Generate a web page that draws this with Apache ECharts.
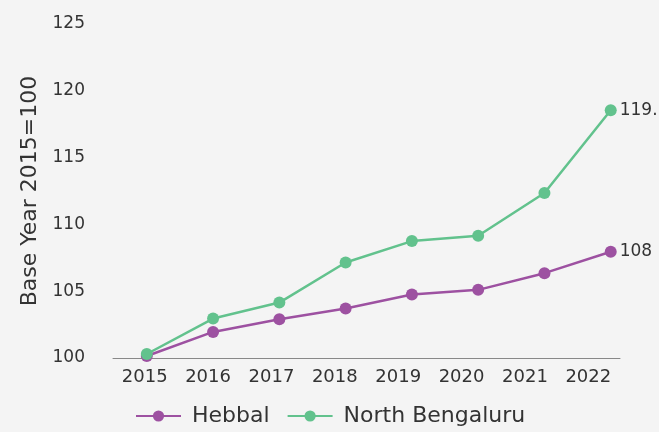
<!DOCTYPE html>
<html>
<head>
<meta charset="utf-8">
<script src="https://cdn.jsdelivr.net/npm/echarts@6/dist/echarts.min.js"></script>
<style>
	html, body { margin: 0; padding: 0; background: #f4f4f4; }
	#chart { width: 659px; height: 432px; }
</style>
</head>
<body>
<div id="chart"></div>
<script>
// data
const years = ['2015', '2016', '2017', '2018', '2019', '2020', '2021', '2022']
const yearValues = [2015, 2016, 2017, 2018, 2019, 2020, 2021, 2022]
const hebbal = [100.15, 101.95, 102.9, 103.7, 104.75, 105.1, 106.35, 107.95]
const northBengaluru = [100.3, 102.95, 104.15, 107.15, 108.75, 109.15, 112.35, 118.55]
const endLabels = { Hebbal: '108', 'North Bengaluru': '119.1' }

const PURPLE = '#9d51a1'
const GREEN = '#62c28d'
const FONT = 'DejaVu Sans'

const chart = echarts.init(document.getElementById('chart'))

function lineSeries(name, values, color) {
	return {
		name,
		type: 'line',
		xAxisIndex: 1,
		data: values.map((v, i) => [yearValues[i], v]),
		symbol: 'circle',
		symbolSize: 12,
		lineStyle: { color, width: 2.5 },
		itemStyle: { color },
		label: {
			show: true,
			position: 'right',
			distance: 3,
			color: '#333',
			fontFamily: FONT,
			fontSize: 17,
			formatter: p => (p.dataIndex === values.length - 1 ? endLabels[name] : '')
		}
	}
}

chart.setOption({
	backgroundColor: '#f4f4f4',
	animation: false,
	textStyle: { fontFamily: FONT },
	grid: { left: 113, right: 39, top: 24, bottom: 74 },
	legend: {
		bottom: 0,
		left: 130,
		itemWidth: 45,
		itemHeight: 14,
		itemGap: 17,
		textStyle: { color: '#333', fontSize: 22, fontFamily: FONT, padding: [0, 0, 0, 6] },
		data: ['Hebbal', 'North Bengaluru']
	},
	xAxis: [
		{
			type: 'category',
			data: years,
			boundaryGap: true,
			axisLine: { lineStyle: { color: '#888', width: 1 } },
			axisTick: { show: false },
			axisLabel: { color: '#333', fontSize: 18, margin: 10, fontFamily: FONT }
		},
		{
			type: 'value',
			min: 2014.49,
			max: 2022.14,
			show: false
		}
	],
	yAxis: {
		type: 'value',
		min: 100,
		max: 125,
		interval: 5,
		name: 'Base Year 2015=100',
		nameLocation: 'middle',
		nameGap: 71,
		nameTextStyle: { color: '#333', fontSize: 22, fontFamily: FONT },
		axisLine: { show: false },
		axisTick: { show: false },
		splitLine: { show: false },
		axisLabel: { color: '#333', fontSize: 17, margin: 28, fontFamily: FONT }
	},
	series: [
		lineSeries('Hebbal', hebbal, PURPLE),
		lineSeries('North Bengaluru', northBengaluru, GREEN)
	]
})
</script>
</body>
</html>
